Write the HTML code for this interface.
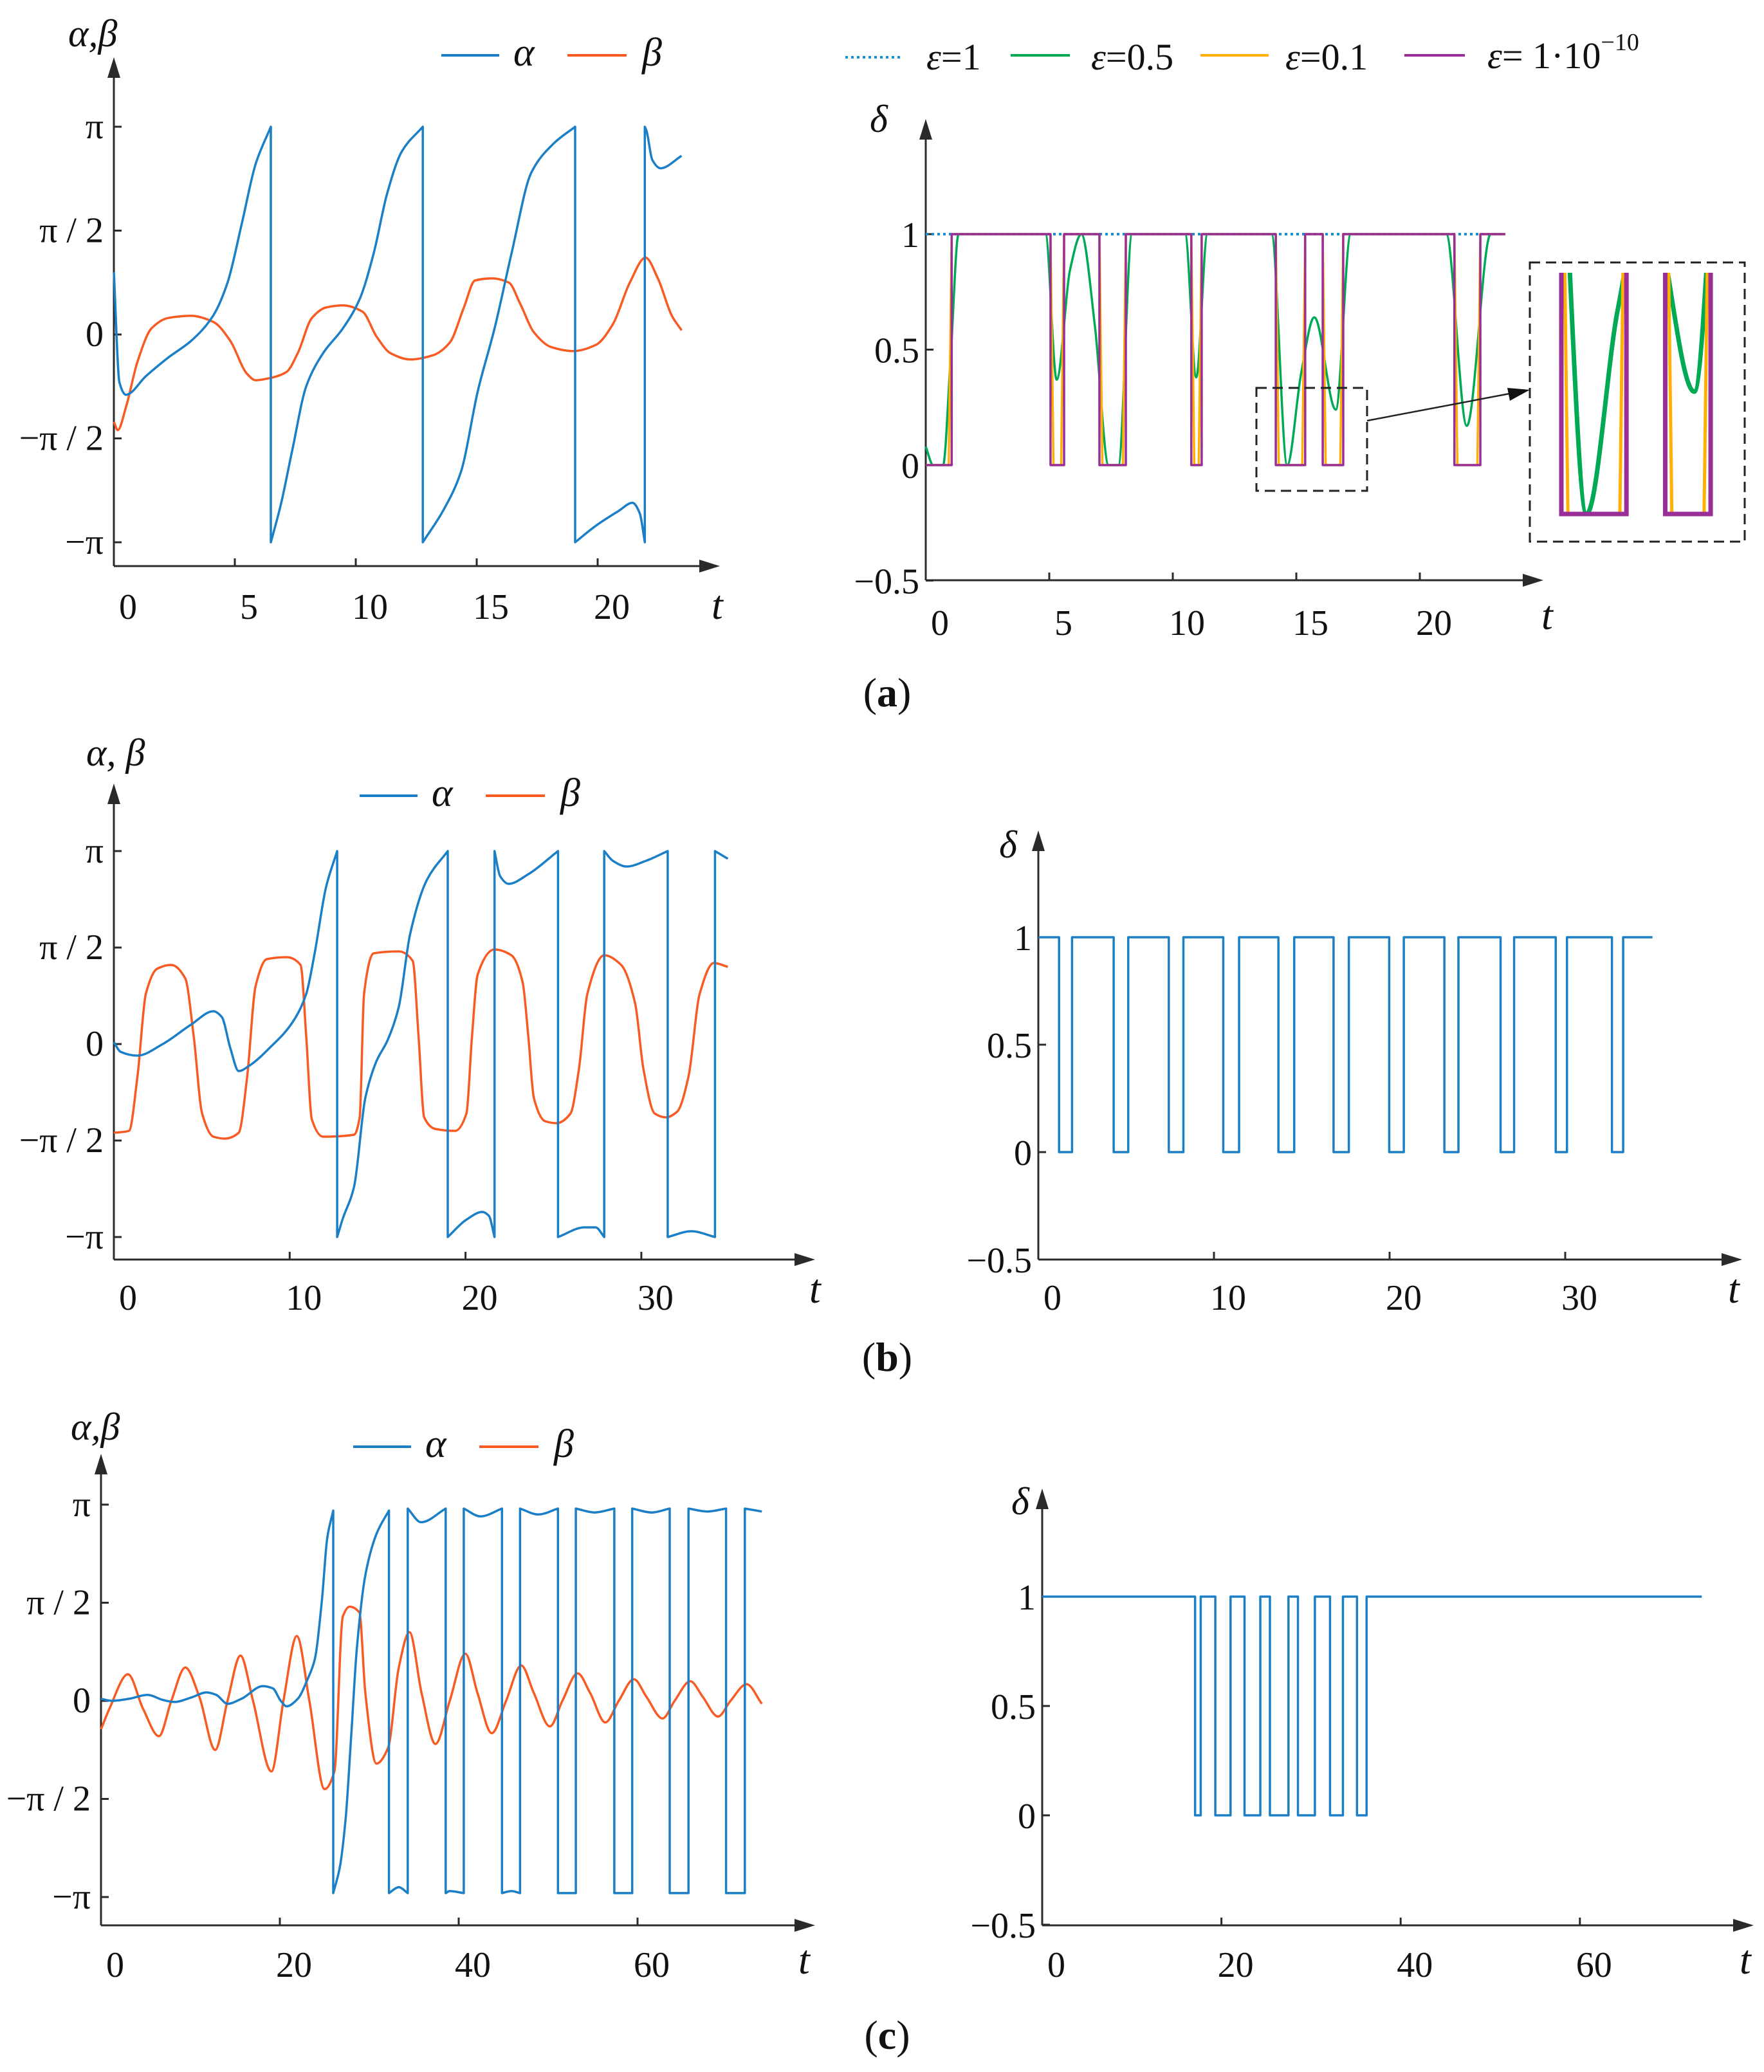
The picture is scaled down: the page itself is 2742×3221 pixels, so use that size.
<!DOCTYPE html>
<html><head><meta charset="utf-8"><style>
html,body{margin:0;padding:0;background:#fff}
svg{display:block}
text{font-family:"Liberation Serif","DejaVu Serif",serif;fill:#111}
</style></head><body>
<svg id="fig" xmlns="http://www.w3.org/2000/svg" width="2742" height="3221" viewBox="0 0 2742 3221" font-family="Liberation Serif, serif">
<defs>
<clipPath id="insetClip"><rect x="2400" y="424" width="290" height="380"/></clipPath>
</defs>
<rect x="0" y="0" width="2742" height="3221" fill="#fff"/>
<text x="1379" y="1098" font-size="64" text-anchor="middle">(<tspan font-weight="bold">a</tspan>)</text>
<text x="1379" y="2131" font-size="64" text-anchor="middle">(<tspan font-weight="bold">b</tspan>)</text>
<text x="1379" y="3185" font-size="64" text-anchor="middle">(<tspan font-weight="bold">c</tspan>)</text>
</svg>
<script>
// ---------- DATA ----------
const aAlphaT=[0,0.23,0.5,1.33,2.26,3.2,4.1,4.7,5.3,5.86,6.49,6.49,6.9,7.37,7.95,8.65,9.47,10.16,10.74,11.3,11.9,12.77,12.77,13.65,14.35,15.05,15.74,16.44,17.26,18.19,19.07,19.07,19.93,20.86,21.44,21.74,21.95,21.95,22.02,22.26,22.6,23.47];
const aAlphaV=[0.30,-0.23,-0.29,-0.20,-0.11,-0.03,0.09,0.25,0.54,0.82,1.0,-1.0,-0.82,-0.56,-0.25,-0.09,0.03,0.17,0.39,0.68,0.88,1.0,-1.0,-0.84,-0.66,-0.27,0.03,0.39,0.78,0.92,1.0,-1.0,-0.92,-0.85,-0.81,-0.86,-1.0,1.0,0.98,0.84,0.80,0.86];
const aBetaT=[0,0.16,0.5,0.98,1.56,2.26,3.19,4.12,4.81,5.51,5.86,6.44,7.14,7.6,8.19,8.77,9.47,10.28,10.86,11.44,12.26,13.19,13.88,14.47,14.93,15.63,16.33,16.79,17.37,18.07,19.0,19.93,20.63,21.33,21.98,22.49,23.07,23.47];
const aBetaV=[-0.42,-0.46,-0.35,-0.13,0.03,0.08,0.09,0.06,-0.03,-0.19,-0.22,-0.21,-0.18,-0.09,0.08,0.13,0.14,0.11,-0.01,-0.09,-0.12,-0.10,-0.04,0.13,0.26,0.27,0.25,0.15,0.01,-0.06,-0.08,-0.05,0.05,0.25,0.37,0.27,0.09,0.02];
const aLowStart=[0,5.05,7.03,10.75,14.17,16.07,21.4];
const aLowEnd=[1.05,5.6,8.1,11.17,15.36,16.9,22.45];
const aTEnd=23.46;
const aGreenT=[0,0.3,0.7,1.0,1.33,4.85,5.3,5.85,6.3,6.85,7.4,7.8,8.35,10.5,10.95,11.4,14.0,14.63,15.2,15.73,16.6,17.2,21.07,21.9,22.87,23.46];
const aGreenV=[0.08,0.0,0.0,0.45,1.0,1.0,0.37,0.85,1.0,0.6,0.0,0.0,1.0,1.0,0.38,1.0,1.0,0.0,0.4,0.64,0.24,1.0,1.0,0.17,1.0,1.0];
const bAlphaT=[0,0.38,1.34,2.78,4.38,5.66,6.14,6.62,7.1,7.74,8.86,10.14,10.94,11.42,12.06,12.7,12.7,13.0,13.66,14.3,14.93,15.57,16.2,16.85,17.8,18.99,18.99,20.05,20.95,21.33,21.65,21.65,21.97,22.45,23.57,25.26,25.26,26.77,27.4,27.89,27.89,28.37,29.17,30.28,31.5,31.5,32.84,34.19,34.19,34.92];
const bAlphaV=[0.01,-0.04,-0.06,0,0.10,0.17,0.14,-0.02,-0.14,-0.11,-0.02,0.11,0.26,0.47,0.81,1.0,-1.0,-0.91,-0.74,-0.28,-0.09,0.02,0.19,0.57,0.85,1.0,-1.0,-0.91,-0.87,-0.89,-1.0,1.0,0.87,0.83,0.88,1.0,-1.0,-0.95,-0.95,-1.0,1.0,0.95,0.92,0.95,1.0,-1.0,-0.97,-1.0,1.0,0.96];
const bBetaT=[0,0.86,1.34,1.82,2.46,3.26,4.06,4.54,5.02,5.66,6.3,7.1,7.58,8.06,8.7,9.82,10.62,10.94,11.26,11.9,13.66,13.98,14.23,14.77,16.2,17.0,17.33,17.65,18.29,19.41,20.05,20.37,20.69,21.65,22.61,23.25,23.57,23.89,24.53,25.17,25.97,26.45,26.93,27.89,28.85,29.65,30.12,30.76,31.4,32.04,32.68,33.32,34.12,34.92];
const bBetaV=[-0.46,-0.45,-0.17,0.26,0.39,0.41,0.34,0.04,-0.36,-0.48,-0.49,-0.46,-0.17,0.30,0.44,0.45,0.41,0.04,-0.39,-0.48,-0.47,-0.38,0.26,0.47,0.48,0.43,0.04,-0.38,-0.44,-0.45,-0.36,0.04,0.36,0.49,0.46,0.32,0.04,-0.28,-0.40,-0.41,-0.36,-0.13,0.26,0.46,0.41,0.21,-0.13,-0.36,-0.38,-0.35,-0.17,0.26,0.42,0.40];
const bLowStart=[1.18,4.29,7.43,10.53,13.67,16.81,19.98,23.12,26.32,29.46,32.66];
const bLowEnd=[1.92,5.12,8.26,11.43,14.57,17.68,20.81,23.92,27.09,30.1,33.3];
const bTEnd=34.97;
const cAlphaT=[0,1.26,3.1,5.2,6.9,8.2,10.1,11.8,12.9,14.15,15.7,18.1,19.2,20.1,20.75,22.0,23.1,23.9,24.7,25.3,25.97,25.97,26.7,27.36,27.99,28.6,29.56,30.8,32.2,32.2,33.3,34.3,34.3,35.8,38.55,38.55,39.0,40.57,40.57,42.45,44.84,44.84,45.9,46.86,46.86,48.9,51.1,51.1,53.1,53.1,55.2,57.4,57.4,59.4,59.4,61.6,63.6,63.6,65.7,65.7,67.8,69.9,69.9,72.0,72.0,73.9];
const cAlphaV=[0.01,0,0.01,0.03,0.005,-0.006,0.017,0.043,0.03,-0.015,0.01,0.075,0.064,0,-0.028,0.01,0.11,0.21,0.51,0.83,0.97,-0.98,-0.85,-0.60,-0.17,0.26,0.64,0.85,0.97,-0.98,-0.95,-0.98,0.98,0.91,0.98,-0.98,-0.97,-0.98,0.98,0.94,0.98,-0.98,-0.97,-0.98,0.98,0.95,0.98,-0.98,-0.98,0.98,0.96,0.98,-0.98,-0.98,0.98,0.96,0.98,-0.98,-0.98,0.98,0.965,0.98,-0.98,-0.98,0.98,0.965];
const cBetaT=[0,0.94,3.02,4.7,6.48,7.86,9.43,11.0,12.77,14.15,15.6,17.0,19.06,20.4,21.9,23.3,25.0,26.1,27.04,27.8,28.9,29.56,30.8,32.1,33.3,34.5,35.85,37.4,39.0,40.75,42.1,43.7,45.3,47.0,48.4,50.2,51.6,53.3,54.7,56.4,57.9,59.6,61.0,62.8,64.15,65.9,67.3,69.0,70.4,72.2,73.9];
const cBetaV=[-0.145,-0.04,0.135,-0.04,-0.18,0,0.17,0.02,-0.25,0,0.23,0,-0.36,0,0.33,0,-0.45,-0.36,0.43,0.48,0.45,0.04,-0.32,-0.24,0.17,0.35,0.04,-0.22,0,0.24,0.04,-0.165,0,0.18,0.04,-0.13,0,0.14,0.04,-0.11,0,0.11,0.02,-0.09,0,0.10,0.02,-0.08,0,0.085,-0.015];
const cLowStart=[17.06,19.32,22.58,25.41,28.54,32.12,35.13];
const cLowEnd=[17.69,21.02,24.34,27.48,30.43,33.56,36.2];
const cTEnd=73.6;
const aXTicks=[0,5,10,15,20];
const bXTicks=[0,10,20,30];
const cXTicks=[0,20,40,60];
const piTickVals=[1,0.5,0,-0.5,-1];
const piTickLabels=["π","π / 2","0","−π / 2","−π"];
const dTickVals=[1,0.5,0,-0.5];
const dTickLabels=["1","0.5","0","−0.5"];

// ---------- DRAWING ----------
const NS="http://www.w3.org/2000/svg";
const svg=document.getElementById('fig');
const BLUE="#1a7fc6", ORANGE="#f85a22", GREEN="#00aa55", YELLOW="#ffb000", PURPLE="#9a2e98", AX="#2a2a2a";
const FONT='"Liberation Serif", serif';
function el(tag,attrs,parent){const e=document.createElementNS(NS,tag);for(const k in attrs)e.setAttribute(k,attrs[k]);(parent||svg).appendChild(e);return e;}
function txt(s,x,y,size,anchor,italic,parent){const t=el('text',{x:x,y:y,'font-size':size,'text-anchor':anchor||'start','font-family':FONT},parent);if(italic)t.setAttribute('font-style','italic');t.textContent=s;return t;}

function smoothPath(ts,vs,fx,fy){
  let segs=[],cur=[];
  for(let i=0;i<ts.length;i++){
    if(i>0&&ts[i]===ts[i-1]){segs.push(cur);cur=[];}
    cur.push([ts[i],vs[i]]);
  }
  segs.push(cur);
  let d="";
  segs.forEach((s,si)=>{
    d+=(si===0?"M":"L")+fx(s[0][0]).toFixed(1)+","+fy(s[0][1]).toFixed(1);
    const n=s.length;
    if(n<2)return;
    // monotone cubic (Fritsch-Carlson)
    const dl=[],m=new Array(n);
    for(let i=0;i<n-1;i++)dl.push((s[i+1][1]-s[i][1])/(s[i+1][0]-s[i][0]));
    m[0]=dl[0];m[n-1]=dl[n-2];
    for(let i=1;i<n-1;i++){
      if(dl[i-1]*dl[i]<=0)m[i]=0;
      else{const h0=s[i][0]-s[i-1][0],h1=s[i+1][0]-s[i][0];const w1=2*h1+h0,w2=h1+2*h0;m[i]=(w1+w2)/(w1/dl[i-1]+w2/dl[i]);}
    }
    for(let i=0;i<n-1;i++){
      const h=s[i+1][0]-s[i][0];
      const c1t=s[i][0]+h/3,c1v=s[i][1]+m[i]*h/3;
      const c2t=s[i+1][0]-h/3,c2v=s[i+1][1]-m[i+1]*h/3;
      d+="C"+fx(c1t).toFixed(1)+","+fy(c1v).toFixed(1)+" "+fx(c2t).toFixed(1)+","+fy(c2v).toFixed(1)+" "+fx(s[i+1][0]).toFixed(1)+","+fy(s[i+1][1]).toFixed(1);
    }
  });
  return d;
}
function stepPath(ls,le,tEnd,fx,fy,ramp){
  const r=ramp||0;
  let d="M"+fx(0)+","+fy(ls[0]===0?0:1);
  for(let i=0;i<ls.length;i++){
    if(ls[i]>0){d+="L"+fx(ls[i])+","+fy(1)+"L"+fx(ls[i]+r)+","+fy(0);}
    d+="L"+fx(le[i]-r)+","+fy(0)+"L"+fx(le[i])+","+fy(1);
  }
  d+="L"+fx(tEnd)+","+fy(1);
  return d;
}

function axes(p){
  const g=el('g',{});
  
  
  const xa=el('line',{x1:p.ax,y1:p.ay,x2:p.xEnd-26,y2:p.ay,stroke:AX,'stroke-width':3},g);
  
  
  const xh=el('path',{d:`M${p.xEnd},${p.ay}l-32,-10v20z`,fill:AX},g);
  
  
  const ya=el('line',{x1:p.ax,y1:p.ay,x2:p.ax,y2:p.yTop+26,stroke:AX,'stroke-width':3},g);
  
  
  const yh=el('path',{d:`M${p.ax},${p.yTop}l-10,32h20z`,fill:AX},g);
  
  
  p.xTicks.forEach(v=>{
    const x=p.fx(v);
    if(v!==0){
      const tk=el('line',{x1:x,y1:p.ay,x2:x,y2:p.ay-12,stroke:AX,'stroke-width':3},g);
      
      
    }
    const lb=txt(String(v),x+22,p.xLabY,56,'middle',false,g);
    
    
  });
  p.yVals.forEach((v,i)=>{
    const y=p.fy(v);
    const tk=el('line',{x1:p.ax,y1:y,x2:p.ax+12,y2:y,stroke:AX,'stroke-width':3},g);
    
    
    const lb=txt(p.yLabels[i],p.ax-p.yLabGap,y+p.yLabDy,56,'end',false,g);
    
    
  });
  const tl=txt('t',p.tx,p.ty,64,'start',true,g);
  
  
  const yt=txt(p.yTitle,p.ytx,p.yty,60,'start',true,g);
  
  
}
function series(d,color,w,name,extra){
  const p=el('path',Object.assign({d:d,fill:'none',stroke:color,'stroke-width':w,'stroke-linejoin':'round'},extra||{}));
  
  
  return p;
}
function abLegend(x,y,name){
  const g=el('g',{});
  
  
  el('line',{x1:x,y1:y,x2:x+90,y2:y,stroke:BLUE,'stroke-width':4},g);
  txt('α',x+112,y+16,62,'start',true,g);
  el('line',{x1:x+196,y1:y,x2:x+288,y2:y,stroke:ORANGE,'stroke-width':4},g);
  txt('β',x+312,y+16,62,'start',true,g);
}

(function(){
  const fx=t=>177+37.6*t, fy=v=>520-323*v;
  axes({name:'a-left',ax:177,ay:880,xEnd:1119,yTop:89,fx:fx,fy:fy,xTicks:aXTicks,xLabY:962,yVals:piTickVals,yLabels:piTickLabels,yLabGap:16,yLabDy:18,tx:1106,ty:962,yTitle:'α,β',ytx:106,yty:72});
  abLegend(686,86,'legend-a-left');
  series(smoothPath(aBetaT,aBetaV,fx,fy),ORANGE,3.5,'beta-line-a');
  series(smoothPath(aAlphaT,aAlphaV,fx,fy),BLUE,3.5,'alpha-line-a');
})();
(function(){
  const fx=t=>1439+38.4*t, fy=v=>723-359*v;
  axes({name:'a-right',ax:1439,ay:902,xEnd:2399,yTop:185,fx:fx,fy:fy,xTicks:aXTicks,xLabY:987,yVals:dTickVals,yLabels:dTickLabels,yLabGap:10,yLabDy:20,tx:2396,ty:978,yTitle:'δ',ytx:1352,yty:205});
  series(`M${fx(0)},${fy(1)}L${fx(aTEnd)},${fy(1)}`,'#1690d0',4,'delta-eps-1',{'stroke-dasharray':'4,5'});
  series(smoothPath(aGreenT,aGreenV,fx,fy),GREEN,3.5,'delta-eps-0.5');
  series(stepPath(aLowStart,aLowEnd,aTEnd,fx,fy,0.12),YELLOW,3.5,'delta-eps-0.1');
  series(stepPath(aLowStart,aLowEnd,aTEnd,fx,fy,0),PURPLE,3.5,'delta-eps-1e-10');
  const zb=el('rect',{x:1953,y:603,width:172,height:160,fill:'none',stroke:'#222','stroke-width':3,'stroke-dasharray':'16,9'});
  
  
  const ar=el('line',{x1:2125,y1:654,x2:2346,y2:612,stroke:'#222','stroke-width':2.5});
  
  
  const ah=el('path',{d:'M2378,606 L2343,603 L2347,623 Z',fill:'#111'});
  
  
  const ib=el('rect',{x:2378,y:408,width:334,height:434,fill:'#fff',stroke:'#222','stroke-width':3,'stroke-dasharray':'16,9'});
  
  
  const ig=el('g',{'clip-path':'url(#insetClip)'});
  
  
  const ix=t=>2427+85*(t-14.17), iy=v=>799-792*v;
  const a1=el('path',{d:smoothPath(aGreenT,aGreenV,ix,iy),fill:'none',stroke:GREEN,'stroke-width':7},ig);
  
  
  const a2=el('path',{d:stepPath(aLowStart,aLowEnd,aTEnd,ix,iy,0.12),fill:'none',stroke:YELLOW,'stroke-width':5},ig);
  
  
  const a3=el('path',{d:stepPath(aLowStart,aLowEnd,aTEnd,ix,iy,0),fill:'none',stroke:PURPLE,'stroke-width':7},ig);
  
  
  const lg=el('g',{});
  
  
  el('line',{x1:1314,y1:89,x2:1401,y2:89,stroke:'#1690d0','stroke-width':4,'stroke-dasharray':'4,5'},lg);
  const t1=txt('',1440,108,58,'start',false,lg);t1.innerHTML='<tspan font-style="italic">ε</tspan>=1';
  el('line',{x1:1571,y1:86,x2:1663,y2:86,stroke:GREEN,'stroke-width':4},lg);
  const t2=txt('',1696,108,58,'start',false,lg);t2.innerHTML='<tspan font-style="italic">ε</tspan>=0.5';
  el('line',{x1:1866,y1:86,x2:1972,y2:86,stroke:YELLOW,'stroke-width':4},lg);
  const t3=txt('',1998,108,58,'start',false,lg);t3.innerHTML='<tspan font-style="italic">ε</tspan>=0.1';
  el('line',{x1:2183,y1:86,x2:2277,y2:86,stroke:PURPLE,'stroke-width':4},lg);
  const t4=txt('',2312,106,58,'start',false,lg);t4.innerHTML='<tspan font-style="italic">ε</tspan>= 1·10<tspan font-size="38" dy="-28">−10</tspan>';
})();
(function(){
  const fx=t=>177+27.33*t, fy=v=>1623-300*v;
  axes({name:'b-left',ax:177,ay:1958,xEnd:1267,yTop:1218,fx:fx,fy:fy,xTicks:bXTicks,xLabY:2036,yVals:piTickVals,yLabels:piTickLabels,yLabGap:16,yLabDy:18,tx:1258,ty:2025,yTitle:'α, β',ytx:134,yty:1190});
  abLegend(559,1237,'legend-b-left');
  series(smoothPath(bBetaT,bBetaV,fx,fy),ORANGE,3.5,'beta-line-b');
  series(smoothPath(bAlphaT,bAlphaV,fx,fy),BLUE,3.5,'alpha-line-b');
})();
(function(){
  const fx=t=>1614+27.3*t, fy=v=>1791-334*v;
  axes({name:'b-right',ax:1614,ay:1958,xEnd:2708,yTop:1291,fx:fx,fy:fy,xTicks:bXTicks,xLabY:2036,yVals:dTickVals,yLabels:dTickLabels,yLabGap:10,yLabDy:20,tx:2686,ty:2025,yTitle:'δ',ytx:1553,yty:1333});
  series(stepPath(bLowStart,bLowEnd,bTEnd,fx,fy,0),BLUE,3.5,'delta-line-b');
})();
(function(){
  const fx=t=>157+13.9*t, fy=v=>2644-305*v;
  axes({name:'c-left',ax:157,ay:2993,xEnd:1267,yTop:2260,fx:fx,fy:fy,xTicks:cXTicks,xLabY:3073,yVals:piTickVals,yLabels:piTickLabels,yLabGap:16,yLabDy:18,tx:1241,ty:3068,yTitle:'α,β',ytx:110,yty:2238});
  abLegend(549,2249,'legend-c-left');
  series(smoothPath(cBetaT,cBetaV,fx,fy),ORANGE,3.5,'beta-line-c');
  series(smoothPath(cAlphaT,cAlphaV,fx,fy),BLUE,3.5,'alpha-line-c');
})();
(function(){
  const fx=t=>1620+13.93*t, fy=v=>2822-340*v;
  axes({name:'c-right',ax:1620,ay:2993,xEnd:2726,yTop:2314,fx:fx,fy:fy,xTicks:cXTicks,xLabY:3073,yVals:dTickVals,yLabels:dTickLabels,yLabGap:10,yLabDy:20,tx:2704,ty:3068,yTitle:'δ',ytx:1572,yty:2354});
  series(stepPath(cLowStart,cLowEnd,cTEnd,fx,fy,0),BLUE,3.5,'delta-line-c');
})();
</script>
</body></html>
